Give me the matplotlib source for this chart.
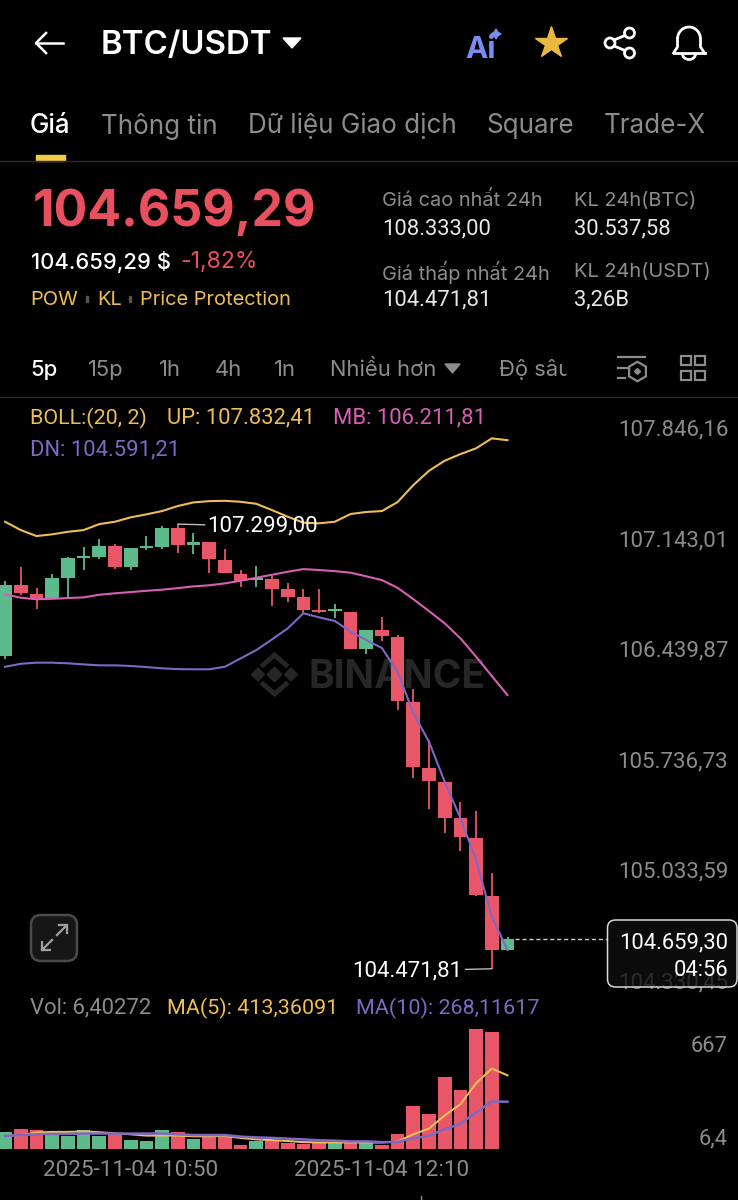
import matplotlib
matplotlib.use("Agg")
import matplotlib.pyplot as plt
from matplotlib.patches import Circle, FancyBboxPatch, Polygon, Rectangle, Arc

plt.rcParams['font.family'] = ['Inter', 'DejaVu Sans']
NUM_FONT = ['Roboto', 'DejaVu Sans']

W, H = 738, 1200

# candles, 5 minute
opens = [106460, 106912, 106856, 106831, 106958, 107085, 107091, 107159, 107028, 107147, 107155,
         107274, 107168, 107187, 107072, 106981, 106945, 106948, 106884, 106835, 106753, 106748,
         106742, 106507, 106627, 106583, 106170, 105748, 105661, 105428, 105305, 104936, 104591]
closes = [106912, 106859, 106824, 106956, 107081, 107096, 107159, 107028, 107147, 107158, 107276,
          107168, 107187, 107077, 106986, 106935, 106958, 106886, 106837, 106753, 106742, 106759,
          106507, 106625, 106585, 106174, 105753, 105664, 105430, 105308, 104939, 104591, 104659.3]
highs = [106937, 107024, 106891, 106981, 107091, 107155, 107206, 107170, 107147, 107225, 107285,
         107299, 107244, 107187, 107138, 107007, 107034, 106969, 106926, 106888, 106884, 106791,
         106742, 106625, 106710, 106594, 106250, 105926, 105661, 105534, 105475, 105079, 104672]
lows = [106441, 106848, 106757, 106831, 106837, 107007, 107079, 107015, 107007, 107134, 107142,
        107117, 107107, 106990, 106986, 106901, 106897, 106780, 106805, 106732, 106732, 106700,
        106507, 106471, 106557, 106115, 105683, 105486, 105337, 105220, 104932, 104471.81, 104591]

boll_up = [107314, 107261, 107223, 107234, 107250, 107261, 107299, 107314, 107342, 107361, 107382,
           107414, 107437, 107445, 107447, 107441, 107428, 107388, 107346, 107308, 107304, 107314,
           107363, 107376, 107382, 107439, 107547, 107638, 107702, 107744, 107781, 107844, 107832.41]
boll_mb = [106852, 106831, 106821, 106824, 106829, 106833, 106850, 106859, 106867, 106875, 106882,
           106892, 106903, 106910, 106922, 106939, 106958, 106977, 106996, 107013, 107007, 107000,
           106990, 106967, 106943, 106894, 106822, 106746, 106668, 106573, 106456, 106333, 106211.81]
boll_dn = [106392, 106411, 106418, 106418, 106414, 106407, 106401, 106401, 106397, 106390, 106382,
           106377, 106376, 106376, 106392, 106445, 106498, 106566, 106636, 106732, 106706, 106683,
           106615, 106562, 106511, 106360, 106098, 105915, 105661, 105430, 105163, 104803, 104591.21]

volumes = [102, 117, 113, 83, 81, 111, 80, 98, 59, 52, 113, 102, 63, 74, 85, 31, 50, 57, 41, 37, 43,
           43, 41, 41, 30, 89, 244, 198, 404, 335, 667, 652, 6.4]
vol_ma5 = [80, 85, 98, 102, 102, 105, 100, 94, 89, 82, 82, 82, 78, 78, 80, 69, 61, 57, 52, 46, 44,
           44, 44, 44, 44, 49, 89, 120, 193, 254, 370, 451, 413.36]
vol_ma10 = [80, 85, 89, 91, 91, 93, 93, 93, 93, 93, 93, 89, 85, 85, 85, 76, 72, 69, 65, 61, 56,
            54, 50, 50, 46, 47, 67, 81, 117, 147, 209, 270, 268.12]

price_ticks = [107846.16, 107143.01, 106439.87, 105736.73, 105033.59, 104330.45]
time_ticks = [8, 24]
time_labels = ["2025-11-04 10:50", "2025-11-04 12:10"]

GREEN = "#5cba8c"
RED = "#e95667"
GOLD = "#eebd55"
PINK = "#d65fb4"
PURPLE = "#7f68c4"
GREY = "#8c8c8c"
LIGHT = "#e8e8e8"
MARK = "#262626"


def vn(v, d=2):
    # vietnamese number format
    return f"{v:,.{d}f}".replace(",", "#").replace(".", ",").replace("#", ".")


def px_axes(left, top, right, bottom):
    return fig.add_axes([left / W, 1 - bottom / H, (right - left) / W, (bottom - top) / H])


def screen_axes(z):
    a = fig.add_axes([0, 0, 1, 1], zorder=z)
    a.set_xlim(0, W)
    a.set_ylim(H, 0)
    a.axis("off")
    a.patch.set_alpha(0)
    return a


fig = plt.figure(figsize=(W / 100, H / 100), dpi=100, facecolor="black")

# watermark sits behind the candles
bg = screen_axes(-1)
bg.text(397, 677, "BINANCE", color=MARK, fontsize=28, fontweight="bold", ha="center", va="center")
bg.add_patch(Polygon([(274.5, 667), (282, 674.5), (274.5, 682), (267, 674.5)], color=MARK))
bg.add_patch(Polygon([(258, 668), (264.5, 674.5), (258, 681), (251.5, 674.5)], color=MARK))
bg.add_patch(Polygon([(291, 668), (297.5, 674.5), (291, 681), (284.5, 674.5)], color=MARK))
bg.plot([263, 274.5, 286], [665, 655, 665], color=MARK, lw=3.5, solid_joinstyle="miter")
bg.plot([263, 274.5, 286], [684, 694, 684], color=MARK, lw=3.5, solid_joinstyle="miter")

# candle index -> pixel: x = 5.1 + 15.7 * i
xlim = (-5.1 / 15.7, (W - 5.1) / 15.7)
idx = list(range(len(opens)))

# price panel
ax = px_axes(0, 400, W, 990)
ax.set_facecolor("none")
ax.set_xlim(*xlim)
ax.set_ylim(104337, 108088)
ax.axis("off")

for i in idx:
    c = GREEN if closes[i] >= opens[i] else RED
    ax.vlines(i, lows[i], highs[i], color=c, lw=1.3, zorder=2)
    ax.bar(i, abs(closes[i] - opens[i]), bottom=min(opens[i], closes[i]), width=0.87, color=c, zorder=2)

ax.plot(idx, boll_up, color=GOLD, lw=1.5, zorder=3)
ax.plot(idx, boll_mb, color=PINK, lw=1.5, zorder=3)
ax.plot(idx, boll_dn, color=PURPLE, lw=1.5, zorder=3)

for v in price_ticks:
    ax.annotate(vn(v), xy=(1, v), xycoords=("axes fraction", "data"), xytext=(-7, 5.8),
                textcoords="offset points", ha="right", va="center", color=GREY, fontsize=16, family=NUM_FONT)

ax.annotate(vn(107299), xy=(11, 107299), xytext=(21.5, -1.6), textcoords="offset points", color="white",
            fontsize=16, va="center", family=NUM_FONT,
            arrowprops=dict(arrowstyle="-", color="#bbbbbb", lw=1, shrinkA=0, shrinkB=0))
ax.annotate(vn(104471.81), xy=(31, 104471.81), xytext=(-21, -1.4), textcoords="offset points", color="white",
            fontsize=16, va="center", ha="right", family=NUM_FONT,
            arrowprops=dict(arrowstyle="-", color="#bbbbbb", lw=1, shrinkA=0, shrinkB=0))
ax.plot([32.45, 38.4], [104659.3, 104659.3], color="#cccccc", lw=1, ls=(0, (3, 2)), zorder=1)

# volume panel, axis floor is the smallest volume
vax = px_axes(0, 1020, W, 1149.3)
vax.set_facecolor("none")
vax.set_xlim(*xlim)
vax.set_ylim(6.4, 718)
for i in idx:
    vax.bar(i, volumes[i], width=0.87, color=GREEN if closes[i] >= opens[i] else RED, zorder=2)
vax.plot(idx, vol_ma5, color=GOLD, lw=1.5, zorder=3)
vax.plot(idx, vol_ma10, color=PURPLE, lw=1.8, zorder=3)
for s in vax.spines.values():
    s.set_visible(False)
vax.set_yticks([])
vax.set_xticks(time_ticks)
vax.set_xticklabels(time_labels, color=GREY, fontsize=16.2, family=NUM_FONT)
vax.tick_params(axis="x", length=0, pad=7.5)

# everything else is the app chrome, in pixels
ui = screen_axes(5)


def txt(x, y, s, color=LIGHT, size=21, weight="normal", ha="left", num=False):
    # +2 because va=center sits a little high with these fonts
    ui.text(x, y + 2, s, color=color, fontsize=size * 0.72, fontweight=weight, ha=ha, va="center",
            family=NUM_FONT if num else None)


# header
ui.plot([36, 63], [43, 43], color="white", lw=1.8)
ui.plot([46, 36, 46], [33, 43, 53], color="white", lw=1.8)
txt(101, 44, "BTC/USDT", "white", 33, "semibold")
ui.add_patch(Polygon([(283, 38), (301, 38), (292, 48)], color="white"))
txt(465, 48, "Ai", "#7a8cf2", 30, "bold")
ui.add_patch(Polygon([(496, 29), (497.5, 32), (501, 34), (497.5, 36), (496, 39), (494.5, 36), (491, 34), (494.5, 32)], color="#7a8cf2", zorder=4))
ui.plot([551], [43], marker="*", ms=24, color="#e8b840", mec="#e8b840")
for cx, cy in [(610, 43), (629.5, 33), (629.5, 53)]:
    ui.add_patch(Circle((cx, cy), 5, fill=False, ec="white", lw=2))
ui.plot([614, 625], [40, 35.5], color="white", lw=2)
ui.plot([614, 625], [46, 50.5], color="white", lw=2)
ui.plot([677.5, 677.5, 673.5], [39, 47, 53], color="white", lw=2)
ui.plot([700.5, 700.5, 704.5], [39, 47, 53], color="white", lw=2)
ui.add_patch(Arc((689, 39), 23, 24, theta1=180, theta2=360, ec="white", lw=2))
ui.plot([673.5, 704.5], [53, 53], color="white", lw=2)
ui.add_patch(Arc((689, 54), 13, 11, theta1=0, theta2=180, ec="white", lw=2))

# tabs
txt(30, 124, "Giá", "white", 26, "medium")
txt(101, 124, "Thông tin", GREY, 26)
txt(248, 124, "Dữ liệu Giao dịch", GREY, 26)
txt(486, 124, "Square", GREY, 26)
txt(604, 124, "Trade-X", GREY, 26)
ui.add_patch(Rectangle((35.5, 155), 29.5, 5.5, color="#f0cb45"))
ui.plot([0, W], [161, 161], color="#2a2a2a", lw=1)

# price block
txt(33, 210, "104.659,29", "#e8505f", 50, "bold")
txt(31, 260, "104.659,29 $", "white", 22, "medium")
txt(180, 260, "-1,82%", "#e8505f", 23)
txt(30, 298, "POW", GOLD, 20)
ui.add_patch(Rectangle((86, 296), 2, 6, color="#555555"))
txt(97, 298, "KL", GOLD, 20)
ui.add_patch(Rectangle((129, 296), 2, 6, color="#555555"))
txt(140, 298, "Price Protection", GOLD, 20)
txt(382, 199, "Giá cao nhất 24h", GREY, 20)
txt(382, 227, "108.333,00", LIGHT, 22, num=True)
txt(382, 270, "Giá thấp nhất 24h", GREY, 20)
txt(382, 298, "104.471,81", LIGHT, 22, num=True)
txt(574, 199, "KL 24h(BTC)", GREY, 20)
txt(574, 227, "30.537,58", LIGHT, 22, num=True)
txt(574, 270, "KL 24h(USDT)", GREY, 20)
txt(574, 298, "3,26B", LIGHT, 22, num=True)

# interval row
txt(30, 368, "5p", "white", 22, "medium")
txt(88, 368, "15p", GREY, 22)
txt(159, 368, "1h", GREY, 22)
txt(215, 368, "4h", GREY, 22)
txt(274, 368, "1n", GREY, 22)
txt(330, 368, "Nhiều hơn", GREY, 22)
ui.add_patch(Polygon([(445, 364), (460, 364), (452.5, 373)], color=GREY))
txt(499, 368, "Độ sâu", GREY, 22)
ui.add_patch(Rectangle((567, 352), 24, 32, color="black", zorder=3))
ui.plot([618, 645], [357, 357], color=GREY, lw=1.6)
ui.plot([618, 627], [368, 368], color=GREY, lw=1.6)
ui.plot([618, 625], [378, 378], color=GREY, lw=1.6)
ui.plot([637], [371], marker="h", ms=14, mfc="none", mec=GREY, mew=1.6)
ui.plot([637], [371], marker="D", ms=3, color=GREY)
for rx, ry in [(681, 356), (695, 356), (681, 371), (695, 371)]:
    ui.add_patch(Rectangle((rx, ry), 10, 9, fill=False, ec=GREY, lw=1.6))
ui.plot([0, W], [397, 397], color="#2a2a2a", lw=1)

# indicator legends
txt(30, 416, "BOLL:(20, 2)", GOLD, 21.5, num=True)
txt(167, 416, "UP: " + vn(107832.41), GOLD, 22, num=True)
txt(333, 416, "MB: " + vn(106211.81), PINK, 22, num=True)
txt(30, 448, "DN: " + vn(104591.21), PURPLE, 22, num=True)
txt(30, 1006, "Vol: 6,40272", GREY, 22, num=True)
txt(167, 1006, "MA(5): 413,36091", GOLD, 21.5, num=True)
txt(356, 1006, "MA(10): 268,11617", PURPLE, 21.5, num=True)
txt(728, 1044, "667", GREY, 22, ha="right", num=True)
txt(728, 1137, "6,4", GREY, 22, ha="right", num=True)

# expand button
ui.add_patch(FancyBboxPatch((31, 915), 46, 46, boxstyle="round,pad=0,rounding_size=10", fc="#161616", ec="#4a4a4a", lw=1.8))
ui.plot([57, 67], [935, 925], color="#a0a0a0", lw=1.6)
ui.plot([59, 67, 67], [925, 925, 933], color="#a0a0a0", lw=1.6)
ui.plot([52, 42], [940, 950], color="#a0a0a0", lw=1.6)
ui.plot([42, 42, 50], [942, 950, 950], color="#a0a0a0", lw=1.6)

# last price tag, slightly see through
ui.add_patch(FancyBboxPatch((607.5, 920), 129.5, 67, boxstyle="round,pad=0,rounding_size=8",
                            fc=(0.06, 0.06, 0.06, 0.78), ec="#d8d8d8", lw=1.1))
txt(728, 941, "104.659,30", "white", 22, ha="right", num=True)
txt(728, 968, "04:56", "white", 22, ha="right", num=True)
ui.plot([421, 421], [1196, 1200], color=GREY, lw=1)

fig.savefig("out.png", dpi=100, facecolor="black")
